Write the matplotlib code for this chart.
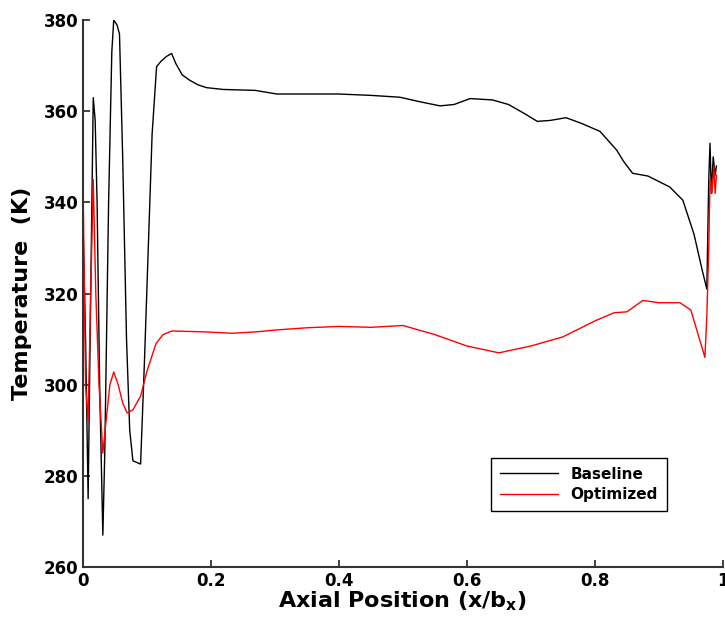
import matplotlib
matplotlib.use("Agg")
import matplotlib.pyplot as plt

plt.rcParams["font.family"] = ["DejaVu Sans"]
plt.rcParams["font.weight"] = "bold"
plt.rcParams["mathtext.default"] = "bf"

baseline_x = [0.0, 0.004, 0.008, 0.012, 0.016, 0.019, 0.022, 0.026, 0.031, 0.034,
              0.040, 0.045, 0.048, 0.053, 0.057, 0.062, 0.068, 0.073, 0.078, 0.090,
              0.096, 0.102, 0.108, 0.115, 0.122, 0.130, 0.1385, 0.145, 0.155, 0.167,
              0.180, 0.193, 0.219, 0.269, 0.303, 0.40, 0.45, 0.495, 0.53, 0.558,
              0.58, 0.605, 0.64, 0.665, 0.69, 0.71, 0.73, 0.755, 0.78, 0.808,
              0.834, 0.845, 0.859, 0.883, 0.917, 0.9375, 0.955, 0.968, 0.975, 0.978,
              0.980, 0.982, 0.985, 0.988, 0.990]
baseline_y = [335, 310, 275, 320, 363, 358, 340, 300, 267, 285,
              340, 373, 380, 379, 377, 350, 310, 290, 283.3, 282.6,
              305, 330, 355, 369.8, 371, 372, 372.7, 370.5, 368, 366.8,
              365.8, 365.2, 364.8, 364.6, 363.8, 363.8, 363.5, 363.1, 362, 361.2,
              361.5, 362.8, 362.5, 361.5, 359.5, 357.8, 358, 358.6, 357.3, 355.6,
              351.5, 349, 346.4, 345.8, 343.4, 340.5, 333, 325, 321, 345,
              353, 342, 350, 346, 348]

optimized_x = [0.0, 0.004, 0.008, 0.012, 0.016, 0.020, 0.025, 0.031, 0.036, 0.042,
               0.048, 0.055, 0.062, 0.069, 0.078, 0.090, 0.100, 0.114, 0.125, 0.139,
               0.19, 0.233, 0.27, 0.30, 0.35, 0.40, 0.45, 0.50, 0.55, 0.60,
               0.65, 0.70, 0.75, 0.80, 0.83, 0.85, 0.865, 0.875, 0.90, 0.933,
               0.95, 0.972, 0.975, 0.978, 0.980, 0.983, 0.986, 0.988, 0.990]
optimized_y = [345, 300, 292, 320, 345, 320, 300, 285, 292, 300,
               302.8, 300, 296, 293.8, 294.5, 297.5, 303, 309, 311, 311.8,
               311.6, 311.3, 311.6, 312, 312.5, 312.8, 312.6, 313, 311, 308.5,
               307, 308.5, 310.5, 314, 315.8, 316, 317.5, 318.5, 318, 318,
               316.4, 306, 315, 330, 345, 342, 348, 342, 346]

fig = plt.figure(figsize=(7.25, 6.31), dpi=100)
ax = fig.add_axes([0.1145, 0.1014, 0.8825, 0.8666])

ax.plot(baseline_x, baseline_y, color="black", lw=1.0, label="Baseline")
ax.plot(optimized_x, optimized_y, color="red", lw=1.0, label="Optimized")

ax.set_xlim(0, 1)
ax.set_ylim(260, 380)
ax.set_xticks([0, 0.2, 0.4, 0.6, 0.8, 1])
ax.set_xticklabels(["0", "0.2", "0.4", "0.6", "0.8", "1"])
ax.set_yticks(range(260, 381, 20))
ax.tick_params(direction="in", labelsize=12, width=1.2, length=5, colors="#222222")
for lab in ax.get_xticklabels() + ax.get_yticklabels():
    lab.set_color("black")
    lab.set_fontweight("bold")
ax.spines["top"].set_visible(False)
ax.spines["right"].set_visible(False)
for s in ("left", "bottom"):
    ax.spines[s].set_linewidth(1.5)
    ax.spines[s].set_color("#333333")

ax.set_xlabel("Axial Position (x/b$_\\mathbf{x}$)", fontsize=16, fontweight="bold", labelpad=0)
ax.set_ylabel("Temperature  (K)", fontsize=16, fontweight="bold", labelpad=8)

leg = ax.legend(loc="lower right", bbox_to_anchor=(0.925, 0.088), fontsize=11,
                frameon=True, fancybox=False, framealpha=1, edgecolor="black",
                handlelength=3.8, borderpad=0.6, labelspacing=0.35)
leg.get_frame().set_linewidth(1.0)
for t in leg.get_texts():
    t.set_fontweight("bold")

fig.savefig("out.png", dpi=100)
